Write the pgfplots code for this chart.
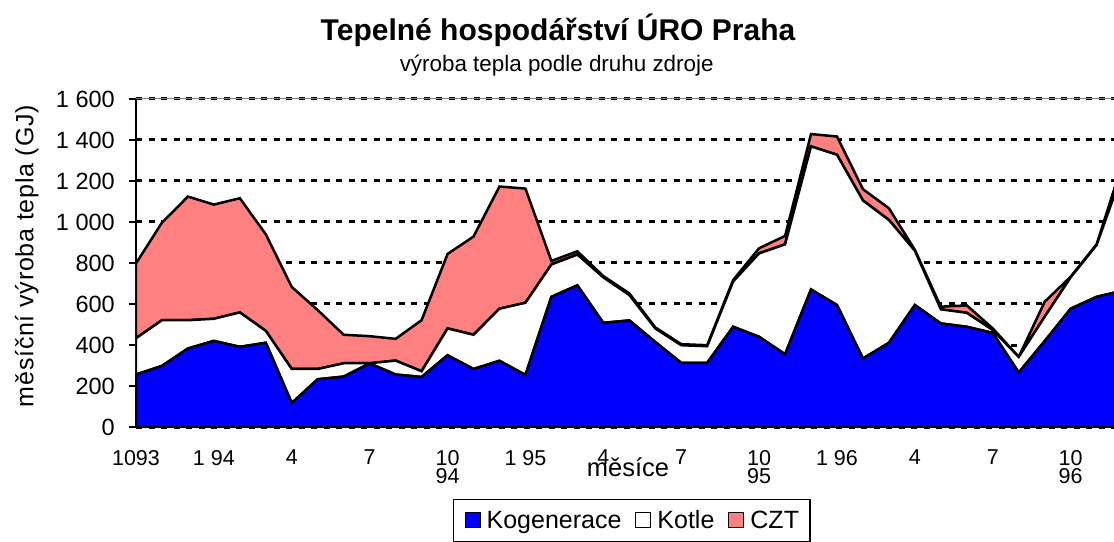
\documentclass[border=0pt]{standalone}
\usepackage{fontspec}
\setmainfont{Liberation Sans}
\usepackage{pgfplots}
\pgfplotsset{compat=1.18}
\usepackage{pgfplotstable}
\usetikzlibrary{calc}
\definecolor{czt}{RGB}{255,128,128}
\definecolor{kog}{RGB}{0,0,255}
\pgfplotsset{
  layers/mylayers/.define layer set={axis background,axis grid,main,axis ticks,axis lines,axis tick labels,axis descriptions,axis foreground}{},
}

\pgfplotstableread{
i kog kotle czt
0 256 177 365
1 298 223 476
2 383 138 603
3 420 108 557
4 391 168 557
5 411 58 471
6 117 166 400
7 233 50 287
8 246 65 139
9 310 1 132
10 256 68 106
11 244 28 249
12 350 131 363
13 283 167 479
14 323 254 596
15 254 352 557
16 635 158 17
17 691 150 16
18 508 222 6
19 520 124 8
20 415 66 5
21 313 86 5
22 313 81 5
23 489 221 7
24 440 407 25
25 355 536 41
26 671 698 60
27 595 733 89
28 334 771 55
29 411 599 57
30 595 265 4
31 505 69 13
32 489 68 36
33 459 14 8
34 266 76 0
35 419 119 73
36 577 153 3
37 635 253 3
38 665 578 46
}\data

\begin{document}
\begin{tikzpicture}
\begin{axis}[
  set layers=mylayers,
  name=ax,
  scale only axis, width=978pt, height=328pt,
  xmin=0, xmax=37.67, ymin=0, ymax=1600,
  stack plots=y,
  axis x line*=bottom, axis y line*=left,
  x axis line style={line width=2.5pt},
  y axis line style={line width=1.5pt},
  xtick align=inside, ytick align=outside,
  major tick length=7pt, minor tick length=6pt,
  tick style={black, line width=1.2pt},
  xtick={0,3,...,36},
  minor xtick={0,...,38},
  xticklabels={1093,1 94,4,7,{10\\94},1 95,4,7,{10\\95},1 96,4,7,{10\\96}},
  ytick={0,200,...,1600},
  yticklabels={0,200,400,600,800,1 000,1 200,1 400,1 600},
  xticklabel style={font=\fontsize{21.5}{18.3}\selectfont, align=center, anchor=north, inner sep=0pt, yshift=-23pt},
  yticklabel style={font=\fontsize{23.5}{23.5}\selectfont, anchor=east, inner sep=0pt, xshift=-14pt},
  ymajorgrids,
  major grid style={black, line width=3pt, dash pattern=on 6pt off 6.5pt},
  xlabel={měsíce},
  xlabel style={font=\fontsize{25.5}{25.5}\selectfont, at={(0.503,-0.152)}, anchor=base},
  ylabel={\addfontfeature{LetterSpace=3}měsíční výroba tepla (GJ)},
  ylabel style={font=\fontsize{25}{25}\selectfont, at={(-0.1118,0.521)}, anchor=center},
  legend columns=-1,
  legend style={at={(0.324,-0.2195)}, anchor=north west, draw=black, line width=1.5pt,
    font=\fontsize{25}{25}\selectfont, inner sep=11pt,
    nodes={inner sep=0pt},
    /tikz/every odd column/.append style={column sep=6pt},
    /tikz/every even column/.append style={column sep=14pt}},
  legend image code/.code={\draw[#1, draw=black, line width=1pt] (0pt,-7pt) rectangle (15pt,8pt);},
]
\coordinate (o) at (rel axis cs:0,0);
\addplot[fill=kog, draw=black, line width=2.5pt] table[x=i, y=kog] {\data} \closedcycle;
\addplot[fill=white, draw=black, line width=2.5pt] table[x=i, y=kotle] {\data} \closedcycle;
\addplot[fill=czt, draw=black, line width=2.5pt] table[x=i, y=czt] {\data} \closedcycle;
\legend{Kogenerace,Kotle,CZT}
\end{axis}
\draw[gray, line width=1pt] ($(o)+(0,328pt)$) -- ($(o)+(978pt,328pt)$);
\node[anchor=base, inner sep=0pt, font=\fontsize{30}{30}\selectfont\bfseries] at ($(o)+(422pt,386pt)$) {Tepelné hospodářství ÚRO Praha};
\node[anchor=base, inner sep=0pt, font=\fontsize{22.4}{22.4}\selectfont] at ($(o)+(420.7pt,355.3pt)$) {výroba tepla podle druhu zdroje};
\pgfresetboundingbox
\path[use as bounding box] ($(o)+(-136pt,-114pt)$) rectangle ($(o)+(978pt,427pt)$);
\end{tikzpicture}
\end{document}
